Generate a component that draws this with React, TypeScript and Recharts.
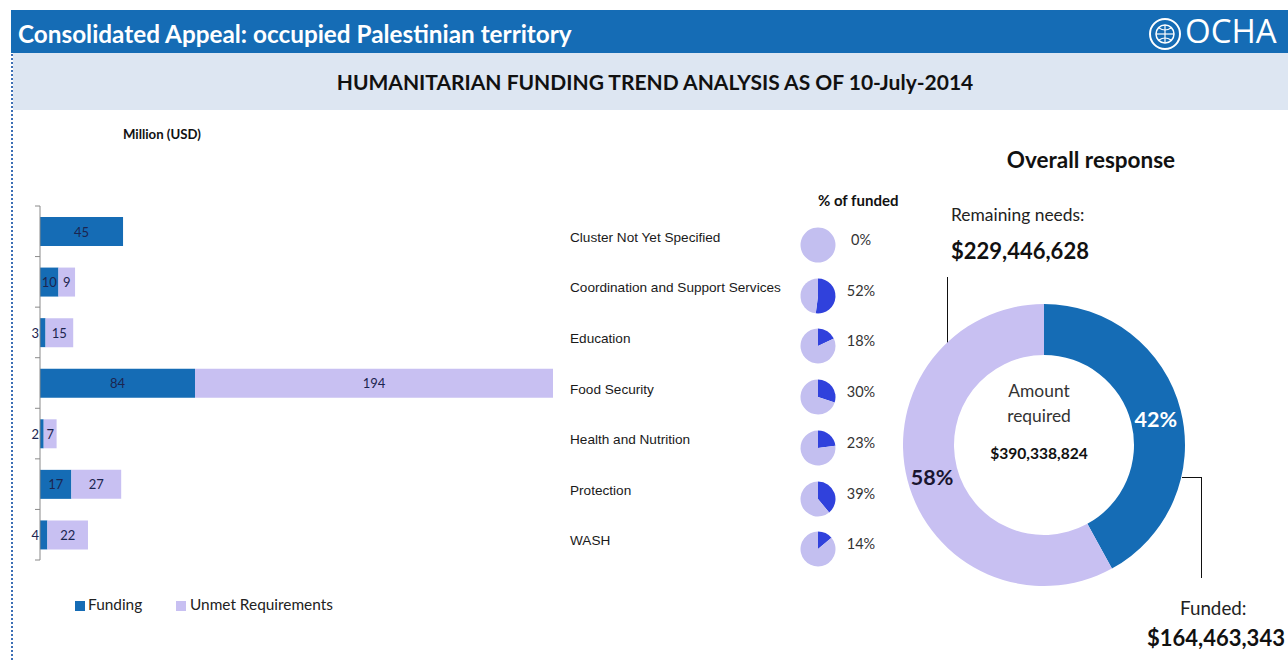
import React from 'react';
import { BarChart, Bar, XAxis, YAxis, LabelList, PieChart, Pie, Cell } from 'recharts';

const categories = [
  'Cluster Not Yet Specified',
  'Coordination and Support Services',
  'Education',
  'Food Security',
  'Health and Nutrition',
  'Protection',
  'WASH',
];
const funding = [45, 10, 3, 84, 2, 17, 4];
const unmet = [0, 9, 15, 194, 7, 27, 22];
const pctFunded = [0, 52, 18, 30, 23, 39, 14];
const overallNames = ['Funded', 'Remaining needs'];
const overallPct = [42, 58];
const fundedAmount = '$164,463,343';
const remainingAmount = '$229,446,628';
const requiredAmount = '$390,338,824';

const BLUE = '#156cb5';
const LAVENDER = '#c8c0f2';
const PIE_BLUE = '#3041dc';
const PIE_LAV = '#c3bff0';
const CAL = 'Lato, "Open Sans", sans-serif';
const ARIAL = '"Liberation Sans", Arial, sans-serif';

const barData = categories.map((name, i) => ({ name, funding: funding[i], unmet: unmet[i] }));

const FundLabel = (props: any) => {
  const { x, y, width, height, value } = props;
  if (!value) return null;
  const small = width < 12;
  return (
    <text
      x={small ? x - 1 : x + width / 2}
      y={y + height / 2}
      dominantBaseline="central"
      textAnchor={small ? 'end' : 'middle'}
      fill="#1c2550"
      fontSize={13}
      fontFamily={CAL}
    >
      {value}
    </text>
  );
};

const UnmetLabel = (props: any) => {
  const { x, y, width, height, value } = props;
  if (!value) return null;
  return (
    <text
      x={x + width / 2}
      y={y + height / 2}
      dominantBaseline="central"
      textAnchor="middle"
      fill="#1c2550"
      fontSize={13}
      fontFamily={CAL}
    >
      {value}
    </text>
  );
};

const CatTick = (props: any) => {
  const { x, y, payload } = props;
  return (
    <text x={x} y={y + 6} dominantBaseline="central" textAnchor="start" fill="#1a1a1a" fontSize={13.6} fontFamily={ARIAL}>
      {payload.value}
    </text>
  );
};

const BoundTick = (props: any) => {
  const { x, y, payload } = props;
  const off = payload && typeof payload.offset === 'number' && payload.offset > 0 ? payload.offset : 25.3;
  const isLast = payload && payload.value === categories[categories.length - 1];
  return (
    <g>
      <line x1={x - 5} x2={x} y1={y - off} y2={y - off} stroke="#8a8a8a" strokeWidth={1} />
      {isLast ? <line x1={x - 5} x2={x} y1={y + off} y2={y + off} stroke="#8a8a8a" strokeWidth={1} /> : null}
    </g>
  );
};

const DonutLabel = (props: any) => {
  const { cx, cy, midAngle, innerRadius, outerRadius, index } = props;
  const r = (innerRadius + outerRadius) / 2;
  const rad = (Math.PI / 180) * midAngle;
  const x = cx + r * Math.cos(rad);
  const y = cy - r * Math.sin(rad) + 3;
  return (
    <text
      x={x}
      y={y}
      dominantBaseline="central"
      textAnchor="middle"
      fill={index === 0 ? '#ffffff' : '#1a1530'}
      fontSize={21.5}
      fontWeight={700}
      fontFamily={CAL}
    >
      {overallPct[index]}%
    </text>
  );
};

const abs = (left: number, top: number, extra: any = {}) => ({ position: 'absolute' as const, left, top, ...extra });
const NOM = { top: 0, right: 0, bottom: 0, left: 0 };

export default function App() {
  const donutData = overallNames.map((name, i) => ({ name, value: overallPct[i] }));
  return (
    <div style={{ position: 'absolute', left: 0, top: 0, width: 1288, height: 660, background: '#fff', overflow: 'hidden', fontFamily: CAL }}>
      {/* frame */}
      <div style={abs(11, 10, { width: 0, height: 650, borderLeft: '2px dotted #3d6fb5' })} />
      <div style={abs(11, 10, { width: 1277, height: 43, background: BLUE })} />
      <div style={abs(13, 53, { width: 1275, height: 57, background: '#dde6f2' })} />
      <div style={abs(18, 19, { color: '#fff', fontSize: 24.3, fontWeight: 700, lineHeight: '30px', whiteSpace: 'nowrap' })}>
        Consolidated Appeal: occupied Palestinian territory
      </div>
      <svg style={abs(1148, 17)} width={34} height={34} viewBox="0 0 34 34">
        <circle cx={17} cy={17} r={15} fill="none" stroke="#fff" strokeWidth={2} />
        <circle cx={17} cy={17} r={9} fill="none" stroke="#fff" strokeWidth={1.5} />
        <line x1={17} y1={8} x2={17} y2={26} stroke="#fff" strokeWidth={1.2} />
        <line x1={8} y1={17} x2={26} y2={17} stroke="#fff" strokeWidth={1.2} />
        <path d="M11 11 Q17 15 23 11 M11 23 Q17 19 23 23" stroke="#fff" strokeWidth={1.2} fill="none" />
      </svg>
      <div style={abs(1185, 11, { color: '#fff', fontSize: 33, lineHeight: '40px', whiteSpace: 'nowrap', fontFamily: '"Open Sans", sans-serif' })}>OCHA</div>
      <div style={abs(0, 68, { width: 1310, textAlign: 'center', fontSize: 21, fontWeight: 700, color: '#111', lineHeight: '28px', whiteSpace: 'nowrap' })}>
        HUMANITARIAN FUNDING TREND ANALYSIS AS OF 10-July-2014
      </div>

      {/* bar chart */}
      <div style={abs(123, 126, { fontSize: 13.2, fontWeight: 700, color: '#111', whiteSpace: 'nowrap' })}>Million (USD)</div>
      <div style={abs(0, 190)}>
        <BarChart width={800} height={390} data={barData} layout="vertical" margin={{ top: 16, right: 0, bottom: 20, left: 32 }} barSize={29}>
          <XAxis type="number" domain={[0, 278]} hide />
          <YAxis
            yAxisId="cat"
            type="category"
            dataKey="name"
            width={8}
            tickSize={0}
            tickMargin={0}
            interval={0}
            axisLine={{ stroke: '#8a8a8a' }}
            tickLine={false}
            tick={<BoundTick />}
          />
          <YAxis
            yAxisId="labels"
            type="category"
            dataKey="name"
            orientation="right"
            width={247}
            axisLine={false}
            tickLine={false}
            tickSize={6}
            tickMargin={11}
            interval={0}
            tick={<CatTick />}
          />
          <Bar yAxisId="cat" dataKey="funding" stackId="a" fill={BLUE} isAnimationActive={false}>
            <LabelList dataKey="funding" content={<FundLabel />} />
          </Bar>
          <Bar yAxisId="cat" dataKey="unmet" stackId="a" fill={LAVENDER} isAnimationActive={false}>
            <LabelList dataKey="unmet" content={<UnmetLabel />} />
          </Bar>
        </BarChart>
      </div>
      {/* legend */}
      <div style={abs(75, 601, { width: 10, height: 10, background: BLUE })} />
      <div style={abs(88, 594, { fontSize: 15.4, color: '#222', lineHeight: '20px' })}>Funding</div>
      <div style={abs(176, 601, { width: 10, height: 10, background: LAVENDER })} />
      <div style={abs(190, 594, { fontSize: 15.4, color: '#222', lineHeight: '20px' })}>Unmet Requirements</div>

      {/* % of funded */}
      <div style={abs(818, 191, { fontSize: 15, fontWeight: 700, color: '#111', whiteSpace: 'nowrap' })}>% of funded</div>
      {pctFunded.map((p, i) => {
        const cyc = 245 + i * 50.7;
        return (
          <React.Fragment key={i}>
            <div style={abs(798, cyc - 20)}>
              <PieChart width={40} height={40} margin={NOM}>
                <Pie
                  data={[{ v: p }, { v: 100 - p }]}
                  dataKey="v"
                  cx={20}
                  cy={20}
                  outerRadius={17.5}
                  startAngle={90}
                  endAngle={-270}
                  stroke="none"
                  isAnimationActive={false}
                >
                  <Cell fill={PIE_BLUE} />
                  <Cell fill={PIE_LAV} />
                </Pie>
              </PieChart>
            </div>
            <div style={abs(836, cyc - 14, { width: 50, textAlign: 'center', fontSize: 14.5, color: '#333', lineHeight: '18px' })}>{p}%</div>
          </React.Fragment>
        );
      })}

      {/* overall response */}
      <div style={abs(991, 146, { width: 200, textAlign: 'center', fontSize: 22.5, fontWeight: 700, color: '#111', whiteSpace: 'nowrap', lineHeight: '28px' })}>Overall response</div>
      <div style={abs(951, 204, { fontSize: 17.4, color: '#222', whiteSpace: 'nowrap', lineHeight: '22px' })}>Remaining needs:</div>
      <div style={abs(951, 237, { fontSize: 22, fontWeight: 700, color: '#111', whiteSpace: 'nowrap', lineHeight: '28px' })}>{remainingAmount}</div>
      <div style={abs(947, 277, { width: 0, height: 66, borderLeft: '1.5px solid #111' })} />

      <div style={abs(894, 295)}>
        <PieChart width={300} height={300} margin={NOM}>
          <Pie
            data={donutData}
            dataKey="value"
            cx={150}
            cy={150}
            innerRadius={90}
            outerRadius={141}
            startAngle={90}
            endAngle={-270}
            stroke="none"
            label={<DonutLabel />}
            labelLine={false}
            isAnimationActive={false}
          >
            <Cell fill={BLUE} />
            <Cell fill={LAVENDER} />
          </Pie>
        </PieChart>
      </div>
      <div style={abs(964, 378, { width: 150, textAlign: 'center', fontSize: 17.4, color: '#333', lineHeight: '25px' })}>
        Amount
        <br />
        required
      </div>
      <div style={abs(964, 443, { width: 150, textAlign: 'center', fontSize: 15.6, fontWeight: 700, color: '#111', lineHeight: '20px' })}>{requiredAmount}</div>

      <div style={abs(1182, 477, { width: 20, height: 0, borderTop: '1.5px solid #111' })} />
      <div style={abs(1201, 477, { width: 0, height: 101, borderLeft: '1.5px solid #111' })} />
      <div style={abs(1180, 596, { fontSize: 18.8, color: '#222', whiteSpace: 'nowrap', lineHeight: '24px' })}>Funded:</div>
      <div style={abs(1147, 624, { fontSize: 22, fontWeight: 700, color: '#111', whiteSpace: 'nowrap', lineHeight: '28px' })}>{fundedAmount}</div>
    </div>
  );
}
